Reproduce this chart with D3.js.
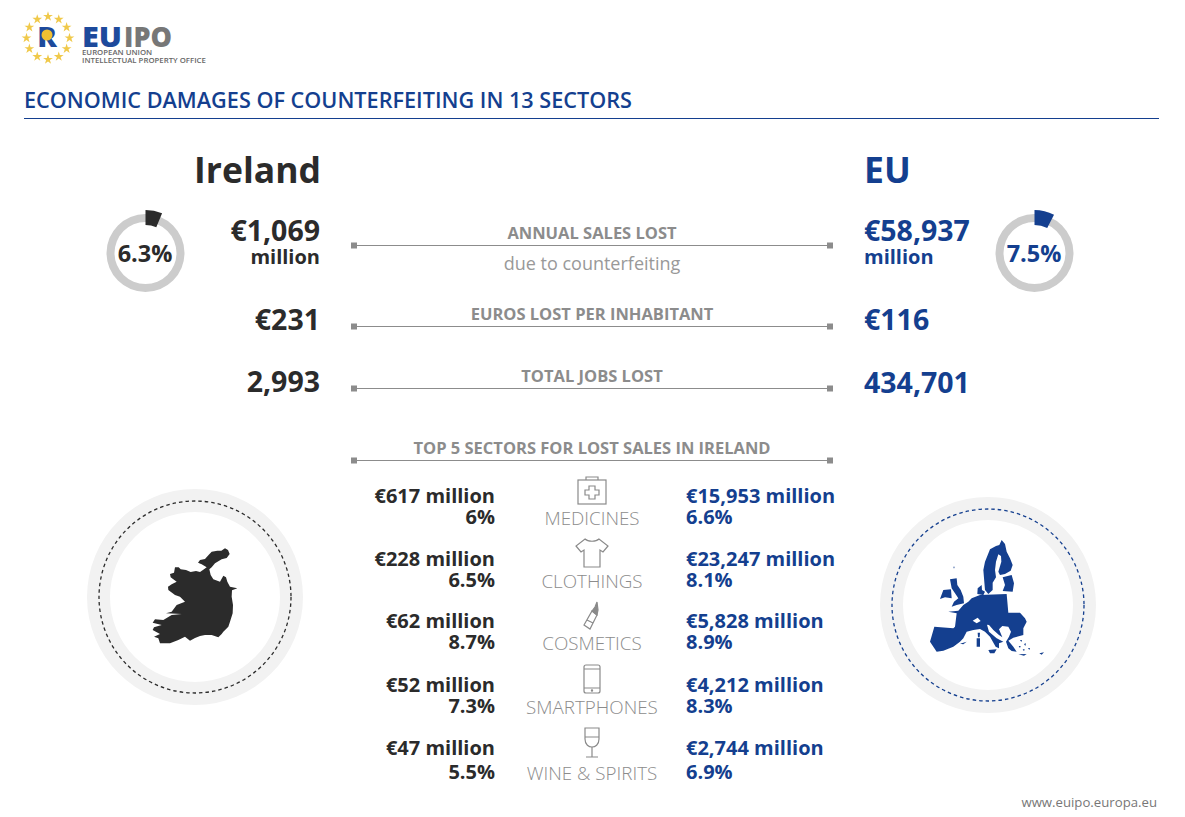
<!DOCTYPE html>
<html>
<head>
<meta charset="utf-8">
<script src="https://cdn.jsdelivr.net/npm/d3@7"></script>
<style>
  html, body { margin: 0; padding: 0; background: #fff; }
  text { font-family: "Open Sans", sans-serif; }
</style>
</head>
<body>
<div id="chart"></div>
<script>
const BLUE = '#143f8f'
const DARK = '#2b2b2b'
const GREY = '#8c8c8c'

// values
const regions = ['Ireland', 'EU']
const salesLost = ['€1,069', '€58,937']
const salesShare = [6.3, 7.5]
const perInhabitant = ['€231', '€116']
const jobsLost = ['2,993', '434,701']
const metricLabels = ['ANNUAL SALES LOST', 'EUROS LOST PER INHABITANT', 'TOTAL JOBS LOST', 'TOP 5 SECTORS FOR LOST SALES IN IRELAND']
const sectors = ['MEDICINES', 'CLOTHINGS', 'COSMETICS', 'SMARTPHONES', 'WINE & SPIRITS']
const irelandSales = [617, 228, 62, 52, 47]
const irelandShare = ['6%', '6.5%', '8.7%', '7.3%', '5.5%']
const euSales = ['15,953', '23,247', '5,828', '4,212', '2,744']
const euShare = ['6.6%', '8.1%', '8.9%', '8.3%', '6.9%']

// rough outlines, traced in a 3x space
const irelandShape = [[[285,262],[296,262],[302,268],[318,270],[332,276],[348,273],[360,276],[372,268],[380,262],[365,253],[354,248],[360,240],[375,237],[385,226],[395,215],[412,212],[424,212],[435,205],[444,210],[449,222],[440,234],[425,238],[405,250],[395,262],[388,268],[392,285],[400,298],[420,305],[430,287],[438,292],[442,305],[450,320],[472,325],[456,331],[455,350],[459,375],[458,400],[450,425],[445,440],[430,455],[425,462],[415,472],[395,465],[375,465],[360,468],[345,474],[330,482],[315,470],[295,480],[270,490],[240,490],[235,475],[222,470],[240,462],[218,450],[222,442],[245,435],[218,428],[225,418],[250,420],[275,405],[305,402],[258,400],[275,395],[290,375],[315,365],[300,350],[285,345],[265,330],[264,320],[275,313],[290,305],[272,292],[270,282],[282,278]]]
const euShape = [
  [[395,150],[405,162],[410,185],[420,205],[428,225],[422,242],[405,252],[390,255],[385,245],[394,215],[393,198],[385,193],[378,215],[375,240],[378,262],[368,278],[368,300],[355,312],[345,300],[340,240],[345,215],[360,178],[378,168],[388,165]],
  [[398,262],[425,255],[432,280],[428,305],[398,303],[405,285]],
  [[322,312],[323,295],[335,285],[336,300],[345,305],[340,315]],
  [[240,268],[260,265],[262,285],[272,300],[280,320],[282,340],[260,345],[245,350],[252,335],[265,325],[252,305],[245,295]],
  [[210,327],[220,300],[243,298],[245,325],[225,322]],
  [[235,365],[265,362],[280,345],[295,335],[305,325],[330,315],[410,312],[415,368],[450,368],[465,385],[470,395],[460,415],[460,435],[430,443],[415,452],[430,470],[440,485],[425,483],[415,475],[408,455],[417,440],[423,425],[415,410],[397,408],[387,418],[397,442],[387,435],[370,420],[357,405],[351,404],[357,425],[380,445],[400,455],[387,460],[387,475],[377,470],[360,440],[345,425],[330,417],[310,420],[290,425],[280,445],[270,455],[250,470],[220,482],[200,485],[180,455],[193,410],[250,415],[255,410],[260,370]],
  [[355,480],[380,478],[373,490],[360,490]],
  [[320,445],[330,445],[330,470],[320,470]],
  [[323,428],[330,428],[329,442],[324,442]],
  [[508,490],[522,487],[515,494]],
  [[445,493],[470,492],[462,497]],
  [[270,461],[290,455],[280,463]],
  [[250,230],[254,230],[252,236]],
  [[450,450],[456,450],[454,456]],
  [[462,462],[468,460],[466,468]],
  [[474,474],[480,474],[478,480]],
  [[446,468],[452,468],[450,474]],
  [[458,478],[464,478],[462,484]]
]
const euHoles = [
  [[308,392],[323,383],[332,393],[320,400]]
]

const svg = d3.select('#chart').append('svg')
  .attr('width', 1185)
  .attr('height', 817)
  .style('display', 'block')

function label (g, x, y, str, size, weight, color, anchor = 'start') {
  return g.append('text')
    .attr('x', x)
    .attr('y', y)
    .attr('font-size', size)
    .attr('font-weight', weight)
    .attr('fill', color)
    .attr('text-anchor', anchor)
    .text(str)
}

function drawHeader () {
  const g = svg.append('g')
  const star = d3.symbol(d3.symbolStar, 30)
  const angle = d3.scaleLinear().domain([0, 12]).range([0, 2 * Math.PI])
  d3.range(12).forEach(i => {
    g.append('path')
      .attr('d', star())
      .attr('fill', '#f0c94a')
      .attr('transform', `translate(${48 + 21.5 * Math.sin(angle(i))},${38 - 21.5 * Math.cos(angle(i))})`)
  })
  label(g, 47, 47, 'R', 29, 800, '#1d4a9c', 'middle')
  g.append('circle').attr('cx', 47).attr('cy', 35).attr('r', 5.5).attr('fill', '#f0c032')
  label(g, 82, 47, 'EU', 28, 800, '#1d4a9c').attr('textLength', 40).attr('lengthAdjust', 'spacingAndGlyphs')
  label(g, 124, 47, 'IPO', 28, 800, '#777').attr('textLength', 48).attr('lengthAdjust', 'spacingAndGlyphs')
  label(g, 82, 55, 'EUROPEAN UNION', 7.8, 600, '#666')
  label(g, 82, 63, 'INTELLECTUAL PROPERTY OFFICE', 7.8, 600, '#666')

  label(g, 24, 108, 'ECONOMIC DAMAGES OF COUNTERFEITING IN 13 SECTORS', 22, 600, BLUE)
    .attr('textLength', 608).attr('lengthAdjust', 'spacingAndGlyphs')
  g.append('line')
    .attr('x1', 24).attr('x2', 1159)
    .attr('y1', 118.5).attr('y2', 118.5)
    .attr('stroke', '#143f8f')
    .attr('stroke-width', 1)
}

function drawDonut (cx, cy, share, color) {
  const g = svg.append('g').attr('transform', `translate(${cx},${cy})`)
  const toAngle = d3.scaleLinear().domain([0, 100]).range([0, 2 * Math.PI])
  g.append('path')
    .attr('d', d3.arc()({ innerRadius: 31, outerRadius: 39, startAngle: 0, endAngle: 2 * Math.PI }))
    .attr('fill', '#cccccc')
  g.append('path')
    .attr('d', d3.arc()({ innerRadius: 28, outerRadius: 43, startAngle: 0, endAngle: toAngle(share) }))
    .attr('fill', color)
  label(g, -0.5, 8.5, `${share}%`, 23.5, 700, color, 'middle')
}

function drawRule (y, str) {
  const g = svg.append('g')
  g.append('line')
    .attr('x1', 354).attr('x2', 830)
    .attr('y1', y + 0.5).attr('y2', y + 0.5)
    .attr('stroke', GREY)
    .attr('stroke-width', 1)
  ;[354, 830].forEach(x => {
    g.append('rect')
      .attr('x', x - 3).attr('y', y - 2.5)
      .attr('width', 6).attr('height', 6)
      .attr('fill', GREY)
  })
  label(g, 592, y - 6, str, 16.5, 700, GREY, 'middle')
}

function drawHeadlines () {
  const g = svg.append('g')
  label(g, 321, 183, regions[0], 35.5, 700, DARK, 'end')
  label(g, 864, 183, regions[1], 35.5, 700, BLUE)

  label(g, 320, 241, salesLost[0], 28.5, 700, DARK, 'end')
  label(g, 320, 264, 'million', 20, 700, DARK, 'end')
  label(g, 864, 241, salesLost[1], 28.5, 700, BLUE)
  label(g, 864, 264, 'million', 20, 700, BLUE)

  label(g, 320, 330, perInhabitant[0], 28.5, 700, DARK, 'end')
  label(g, 864, 330, perInhabitant[1], 28.5, 700, BLUE)
  label(g, 320, 392, jobsLost[0], 28.5, 700, DARK, 'end')
  label(g, 864, 393, jobsLost[1], 28.5, 700, BLUE)

  label(g, 592, 270, 'due to counterfeiting', 18, 400, '#999', 'middle')
}

function drawIcons (g, i, y) {
  const icon = g.append('g')
    .attr('transform', `translate(592,${y})`)
    .attr('fill', 'none')
    .attr('stroke', '#8a8a8a')
    .attr('stroke-width', 1.2)
  if (i === 0) {
    icon.append('rect').attr('x', -14).attr('y', -10).attr('width', 28).attr('height', 24)
    icon.append('path').attr('d', 'M-6,-10V-13H6V-10')
    icon.append('path').attr('d', 'M-3,-4H3V0H7V5H3V9H-3V5H-7V0H-3Z')
  } else if (i === 1) {
    icon.append('path').attr('d', 'M-7,-14C-4,-11 4,-11 7,-14L16,-7L11,-1L8,-3V14H-8V-3L-11,-1L-16,-7Z')
  } else if (i === 2) {
    icon.append('path').attr('d', 'M0,-4L5,0L-2,14L-8,10Z')
    icon.append('path').attr('d', 'M-5,5L1,8')
    icon.append('path').attr('d', 'M0,-4L3,-8L5,-13L6,-5L5,0Z').attr('fill', '#8a8a8a')
  } else if (i === 3) {
    icon.append('rect').attr('x', -8).attr('y', -14).attr('width', 16).attr('height', 28).attr('rx', 2)
    icon.append('path').attr('d', 'M-8,-10H8M-8,9H8')
    icon.append('circle').attr('cx', 0).attr('cy', 11.5).attr('r', 0.6)
  } else {
    icon.append('path').attr('d', 'M-7,-14H7V-3C7,3 3,5 0,5C-3,5 -7,3 -7,-3Z')
    icon.append('path').attr('d', 'M-7,-5H7M0,5V15M-6,15H6')
  }
}

function drawSectors () {
  const g = svg.append('g')
  const rowY = d3.scaleOrdinal().domain(sectors).range([503, 566, 628, 692, 755])
  sectors.forEach((name, i) => {
    const y = rowY(name)
    const isLast = i === sectors.length - 1
    const lower = y + (isLast ? 24 : 21)
    label(g, 495, y, `€${irelandSales[i]} million`, 20, 700, DARK, 'end')
    label(g, 495, lower, irelandShare[i], 20, 700, DARK, 'end')
    label(g, 686, y, `€${euSales[i]} million`, 20, 700, BLUE)
    label(g, 686, lower, euShare[i], 20, 700, BLUE)
    label(g, 592, y + (isLast ? 25 : 22), name, 18.8, 300, '#8c8c8c', 'middle')
    drawIcons(g, i, y - 13)
  })
}

function drawMap (cx, cy, color, rings, holes, ox, oy) {
  const g = svg.append('g')
  g.append('path')
    .attr('d', d3.arc()({ innerRadius: 85, outerRadius: 108, startAngle: 0, endAngle: 2 * Math.PI }))
    .attr('transform', `translate(${cx},${cy})`)
    .attr('fill', '#f2f2f2')
  g.append('circle')
    .attr('cx', cx).attr('cy', cy).attr('r', 96)
    .attr('fill', 'none')
    .attr('stroke', color)
    .attr('stroke-width', 1.3)
    .attr('stroke-dasharray', '3.5 3')
  const line = d3.line().curve(d3.curveLinearClosed)
  g.append('path')
    .attr('transform', `translate(${ox},${oy}) scale(${1 / 3})`)
    .attr('d', rings.concat(holes).map(r => line(r)).join(''))
    .attr('fill', color)
    .attr('fill-rule', 'evenodd')
}

drawHeader()
drawDonut(145.5, 253, salesShare[0], DARK)
drawDonut(1034.5, 253, salesShare[1], BLUE)
drawHeadlines()
;[245, 326, 388, 460].forEach((y, i) => drawRule(y, metricLabels[i]))
drawSectors()
drawMap(195, 597, DARK, irelandShape, [], 80, 480)
drawMap(988, 605, BLUE, euShape, euHoles, 870, 490)
label(svg, 1157, 807, 'www.euipo.europa.eu', 13.2, 400, '#777', 'end')
</script>
</body>
</html>
